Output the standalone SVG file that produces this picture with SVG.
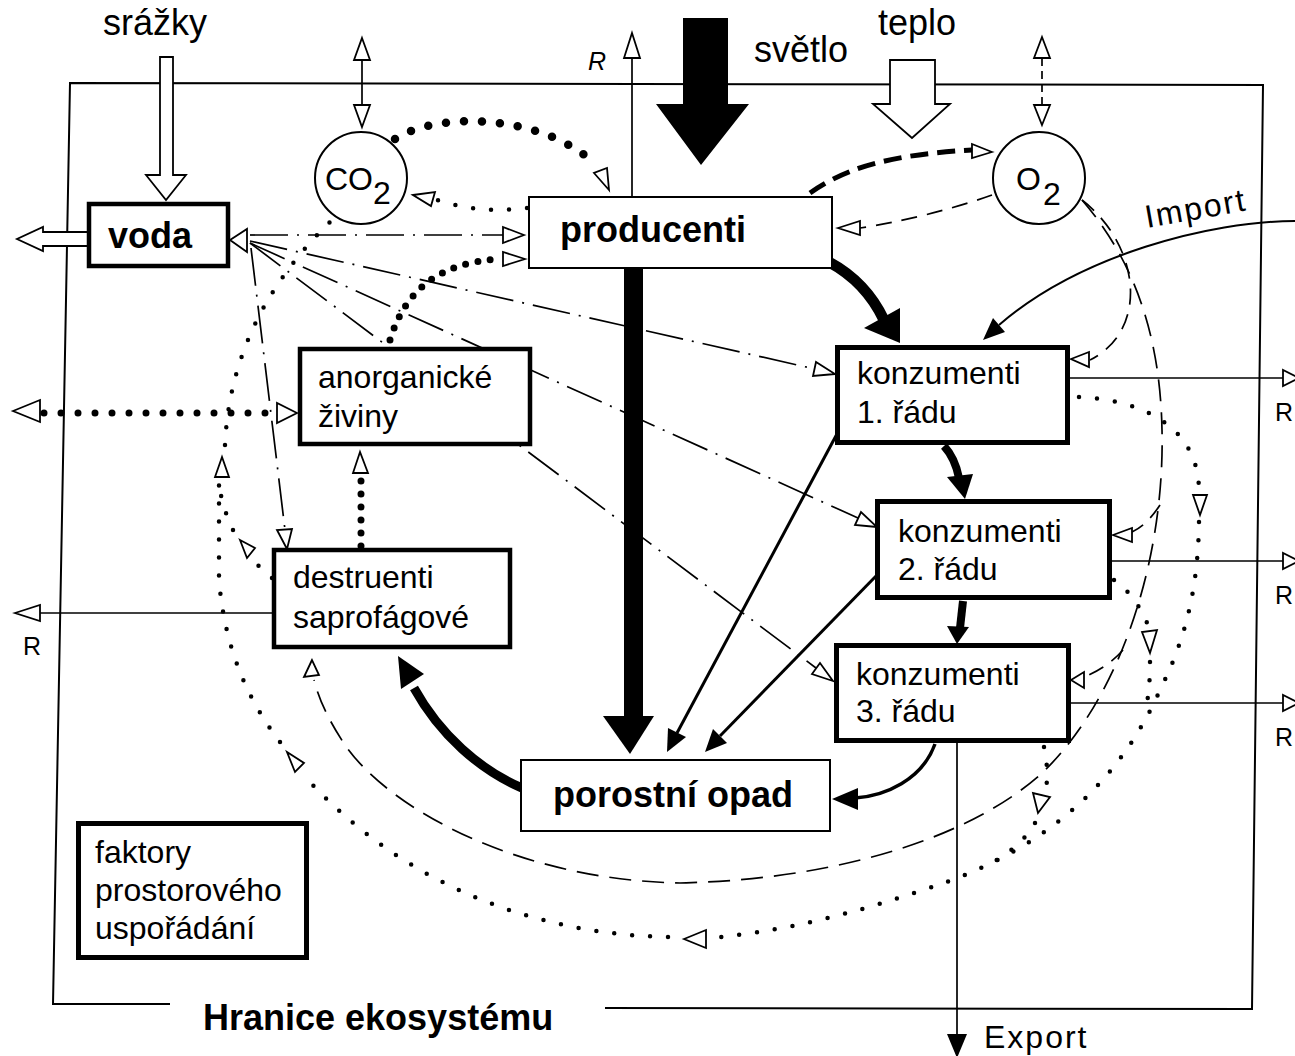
<svg xmlns="http://www.w3.org/2000/svg" width="1295" height="1056" viewBox="0 0 1295 1056">
<style>
.ln{fill:none;stroke:#000}
.thin{stroke-width:1.7}
.dd{stroke-dasharray:38 9 2 9}
.dash{stroke-dasharray:16 10}
.dots{stroke-width:4.5;stroke-linecap:round;stroke-dasharray:0 18}
.bdots{stroke-width:8.5;stroke-linecap:round;stroke-dasharray:0 18}
.mdots{stroke-width:7;stroke-linecap:round}
.hol{fill:#fff;stroke:#000;stroke-width:1.8}
.sol{fill:#000;stroke:none}
.box{fill:#fff;stroke:#000}
.thick{stroke-width:4.5}
.thinb{stroke-width:2}
.t{font-family:"Liberation Sans",Arial,sans-serif;font-size:32px;fill:#000}
.b{font-weight:bold;font-size:36px}
.top{font-size:36px}
.r{font-size:25px}
</style>
<rect width="1295" height="1056" fill="#fff"/>

<g id="boundary">
  <path class="ln" stroke-width="2" d="M170,1004 L53,1004 L70,83 L1263,85 L1252,1009 L605,1008"/>
  <text class="t b" font-size="37" x="203" y="1030">Hranice ekosystému</text>
</g>

<g id="connectors">
  <!-- water (dash-dot) -->
  <g class="ln thin dd">
    <path d="M250,235 L503,235"/>
    <path d="M250,241 L815,369"/>
    <path d="M250,243 L858,518"/>
    <path d="M250,243 L816,668"/>
    <path d="M251,248 L285,530"/>
  </g>
  <polygon class="hol" points="230,240 247,229 247,252"/>
  <polygon class="hol" points="524,235 503,227 503,243"/>
  <polygon class="hol" points="835,374 813,376 816,362"/>
  <polygon class="hol" points="877,527 855,525 861,512"/>
  <polygon class="hol" points="833,681 812,674 820,663"/>
  <polygon class="hol" points="287,549 277,530 292,529"/>

  <!-- CO2 (small dots) -->
  <g class="ln dots">
    <path d="M527,208 Q480,214 437,200"/>
    <path d="M1079,397 C1140,400 1198,425 1199,490"/>
    <path d="M1199,522 C1198,590 1185,640 1160,690 C1120,780 1050,845 944,883 C880,905 800,930 710,938"/>
    <path d="M668,937 C560,935 420,900 310,782"/>
    <path d="M280,742 C248,700 225,650 219,580 L219,482"/>
    <path d="M225,445 C228,380 250,300 330,222"/>
    <path d="M1114,580 C1130,590 1146,615 1150,632"/>
    <path d="M1150,662 C1150,685 1148,700 1145,712"/>
    <path d="M1044,747 C1047,760 1048,775 1046,790"/>
    <path d="M1035,823 C1025,840 1010,853 990,864"/>
    <path d="M272,578 C265,570 258,566 253,561"/>
    <path d="M233,530 C226,515 221,500 220,488"/>
  </g>
  <polygon class="hol" points="413,195 435,192 431,206"/>
  <polygon class="hol" points="1200,515 1193,495 1207,495"/>
  <polygon class="hol" points="684,939 706,930 706,948"/>
  <polygon class="hol" points="287,752 304,763 295,772"/>
  <polygon class="hol" points="222,457 215,477 229,477"/>
  <polygon class="hol" points="1150,653 1142,632 1157,630"/>
  <polygon class="hol" points="1038,813 1033,793 1050,797"/>
  <polygon class="hol" points="240,540 255,548 247,558"/>

  <!-- bold dots -->
  <path class="ln bdots" d="M395,139 C440,110 545,115 596,165"/>
  <polygon class="hol" points="609,190 594,173 607,168"/>
  <path class="ln mdots" stroke-dasharray="0 12.5" d="M390,340 C405,290 440,262 500,259"/>
  <polygon class="hol" points="525,259 503,252 503,266"/>
  <path class="ln mdots" stroke-dasharray="0 17" d="M44,413 L277,413"/>
  <polygon class="hol" points="13,411 40,400 40,422"/>
  <polygon class="hol" points="297,413 277,403 277,423"/>
  <path class="ln mdots" stroke-dasharray="0 13" d="M361,546 L361,476"/>
  <polygon class="hol" points="360,452 353,473 368,473"/>

  <!-- O2 (dashed) -->
  <path class="ln" stroke-width="5" stroke-dasharray="18 9" d="M810,193 C840,172 880,155 972,150"/>
  <polygon class="hol" points="992,152 972,144 972,158"/>
  <path class="ln thin dash" d="M992,195 C950,210 900,222 860,228"/>
  <polygon class="hol" points="838,228 860,221 860,235"/>
  <path class="ln thin dash" d="M1082,200 C1140,245 1150,330 1090,360"/>
  <polygon class="hol" points="1071,359 1089,352 1089,367"/>
  <path class="ln thin" stroke-dasharray="22 11" d="M1082,200 C1125,250 1160,320 1162,430 C1165,560 1120,700 1040,775 C960,845 820,880 680,883 C520,880 390,810 345,745 C325,715 318,695 314,680"/>
  <polygon class="hol" points="312,660 304,677 319,675"/>
  <path class="ln thin dash" d="M1160,505 C1150,520 1142,527 1132,532"/>
  <polygon class="hol" points="1113,535 1132,528 1132,542"/>
  <path class="ln thin dash" d="M1123,650 C1110,665 1095,672 1083,678"/>
  <polygon class="hol" points="1071,680 1084,672 1084,688"/>

  <!-- gas exchange across boundary -->
  <line class="ln thin" x1="362" y1="60" x2="362" y2="105"/>
  <polygon class="hol" points="362,38 370,60 354,60"/>
  <polygon class="hol" points="362,127 370,105 354,105"/>
  <line class="ln thin" stroke-dasharray="8 5" x1="1042" y1="58" x2="1042" y2="105"/>
  <polygon class="hol" points="1042,37 1050,58 1034,58"/>
  <polygon class="hol" points="1042,125 1050,105 1034,105"/>

  <!-- respiration R -->
  <line class="ln thin" x1="632" y1="197" x2="632" y2="58"/>
  <polygon class="hol" points="632,33 640,58 624,58"/>
  <text class="t r" x="588" y="70" font-style="italic">R</text>
  <line class="ln thin" x1="274" y1="613" x2="40" y2="613"/>
  <polygon class="hol" points="15,613 40,605 40,621"/>
  <text class="t r" x="23" y="655">R</text>
  <line class="ln thin" x1="1070" y1="378" x2="1283" y2="378"/>
  <polygon class="hol" points="1299,378 1283,370 1283,386"/>
  <text class="t r" x="1275" y="421">R</text>
  <line class="ln thin" x1="1112" y1="561" x2="1283" y2="561"/>
  <polygon class="hol" points="1299,561 1283,553 1283,569"/>
  <text class="t r" x="1275" y="604">R</text>
  <line class="ln thin" x1="1071" y1="703" x2="1283" y2="703"/>
  <polygon class="hol" points="1299,703 1283,695 1283,711"/>
  <text class="t r" x="1275" y="746">R</text>

  <!-- matter flows (solid) -->
  <line x1="633.5" y1="268" x2="633.5" y2="718" stroke="#000" stroke-width="19"/>
  <polygon class="sol" points="603,716 654,716 630,754"/>
  <path class="ln" stroke-width="11" d="M829,262 Q866,282 884,320"/>
  <polygon class="sol" points="864,328 900,308 900,343"/>
  <path class="ln" stroke-width="8" d="M944,446 Q955,458 959,478"/>
  <polygon class="sol" points="947,477 973,474 965,499"/>
  <path class="ln" stroke-width="8" d="M963,601 L960,628"/>
  <polygon class="sol" points="947,626 969,627 957,644"/>
  <path class="ln" stroke-width="9" d="M522,788 C480,770 440,735 414,688"/>
  <polygon class="sol" points="398,656 424,674 401,689"/>
  <line class="ln" stroke-width="3" x1="838" y1="432" x2="677" y2="733"/>
  <polygon class="sol" points="667,752 686,737 668,728"/>
  <line class="ln" stroke-width="3" x1="877" y1="575" x2="720" y2="736"/>
  <polygon class="sol" points="705,752 727,743 713,729"/>
  <path class="ln" stroke-width="3.5" d="M935,744 C922,780 885,796 855,798"/>
  <polygon class="sol" points="832,799 858,788 858,810"/>
  <path class="ln" stroke-width="2" d="M1295,221 C1210,221 1080,255 999,325"/>
  <polygon class="sol" points="983,340 1005,332 993,318"/>
  <text class="t" font-size="27" letter-spacing="2" x="1147" y="228" transform="rotate(-10 1147 228)">Import</text>
  <line class="ln thin" x1="957" y1="743" x2="957" y2="1036"/>
  <polygon class="sol" points="947,1034 967,1034 957,1058"/>
  <text class="t" font-size="26" letter-spacing="2" x="984" y="1048">Export</text>

  <!-- inputs -->
  <polygon class="hol" points="160,57 173,57 173,175 186,175 166,200 146,175 160,175"/>
  <text class="t top" x="103" y="35">srážky</text>
  <polygon class="hol" points="89,232 43,232 43,227 17,239 43,251 43,246 89,246"/>
  <polygon class="sol" points="683,18 728,18 728,104 749,104 701,165 656,104 683,104"/>
  <text class="t top" x="754" y="62">světlo</text>
  <polygon class="hol" points="890,60 935,60 935,104 950,104 912,138 873,104 890,104"/>
  <text class="t top" x="878" y="35">teplo</text>
</g>

<g id="voda">
  <rect class="box thick" x="89" y="204" width="139" height="62"/>
  <text class="t b" x="108" y="248">voda</text>
</g>
<g id="producenti">
  <rect class="box thinb" x="529" y="197" width="303" height="71"/>
  <text class="t b" x="560" y="242">producenti</text>
</g>
<g id="co2">
  <circle class="box" stroke-width="2" cx="361" cy="178" r="46"/>
  <text class="t" font-size="34" x="325" y="190">CO</text>
  <text class="t" x="373" y="204">2</text>
</g>
<g id="o2">
  <circle class="box" stroke-width="2" cx="1039" cy="178" r="46"/>
  <text class="t" font-size="30" x="1016" y="190">O</text>
  <text class="t" x="1043" y="205">2</text>
</g>
<g id="anorganicke-ziviny">
  <rect class="box thick" x="300" y="349" width="230" height="95"/>
  <text class="t" x="318" y="388">anorganické</text>
  <text class="t" x="318" y="427">živiny</text>
</g>
<g id="destruenti">
  <rect class="box thick" x="274" y="550" width="236" height="97"/>
  <text class="t" x="293" y="588">destruenti</text>
  <text class="t" x="293" y="628">saprofágové</text>
</g>
<g id="konzumenti-1">
  <rect class="box" stroke-width="5" x="837.5" y="347.5" width="230" height="95"/>
  <text class="t" x="857" y="384">konzumenti</text>
  <text class="t" x="857" y="423">1. řádu</text>
</g>
<g id="konzumenti-2">
  <rect class="box" stroke-width="5" x="877.5" y="501.5" width="232" height="96"/>
  <text class="t" x="898" y="542">konzumenti</text>
  <text class="t" x="898" y="580">2. řádu</text>
</g>
<g id="konzumenti-3">
  <rect class="box" stroke-width="5" x="836.5" y="645.5" width="232" height="95"/>
  <text class="t" x="856" y="685">konzumenti</text>
  <text class="t" x="856" y="722">3. řádu</text>
</g>
<g id="porostni-opad">
  <rect class="box thinb" x="521" y="760" width="309" height="71"/>
  <text class="t b" x="553" y="807">porostní opad</text>
</g>
<g id="faktory">
  <rect class="box" stroke-width="5" x="78.5" y="823.5" width="228" height="134"/>
  <text class="t" x="95" y="863">faktory</text>
  <text class="t" x="95" y="901">prostorového</text>
  <text class="t" x="95" y="939">uspořádání</text>
</g>
</svg>
